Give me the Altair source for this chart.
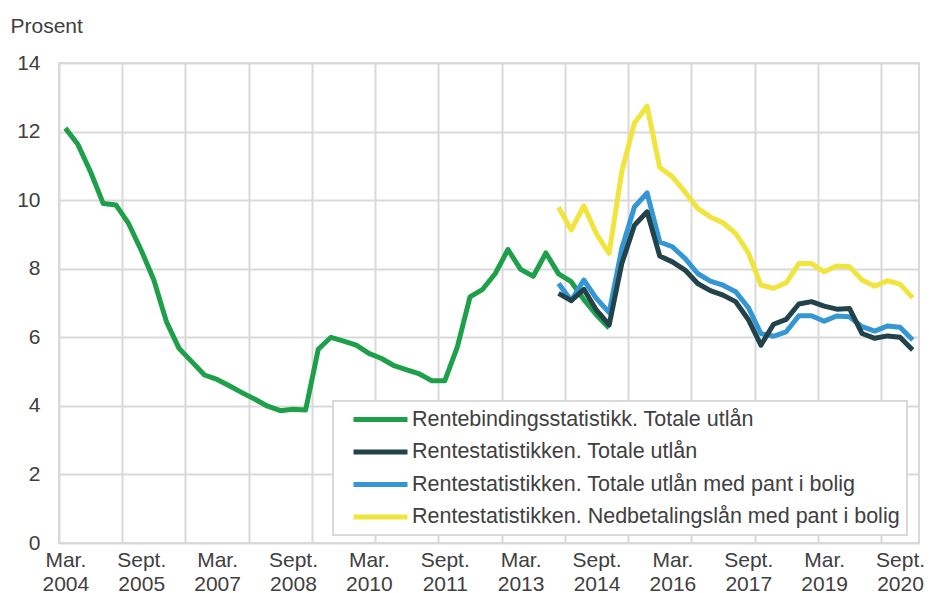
import json
import altair as alt
import pandas as pd

series_names = [
    "Rentebindingsstatistikk. Totale utlån",
    "Rentestatistikken. Totale utlån",
    "Rentestatistikken. Totale utlån med pant i bolig",
    "Rentestatistikken. Nedbetalingslån med pant i bolig",
]
series_colors = ["#1e9f4a", "#23434b", "#3497d4", "#f1e43d"]

# quarter index 0 = Mar. 2004
green_start = 0
green = [12.1, 11.62, 10.82, 9.9, 9.86, 9.32, 8.54, 7.67, 6.45, 5.67,
         5.29, 4.90, 4.77, 4.58, 4.38, 4.19, 3.99, 3.86, 3.90, 3.88,
         5.65, 6.0, 5.89, 5.77, 5.53, 5.38, 5.17, 5.05, 4.93, 4.73,
         4.73, 5.72, 7.18, 7.40, 7.86, 8.56, 7.98, 7.78, 8.46, 7.85,
         7.62, 7.1, 6.65, 6.27]

rente_start = 39
black = [7.28, 7.07, 7.40, 6.79, 6.36, 8.15, 9.27, 9.66, 8.37, 8.20,
         7.96, 7.57, 7.36, 7.23, 7.04, 6.52, 5.77, 6.38, 6.52, 6.97,
         7.04, 6.91, 6.82, 6.84, 6.11, 5.97, 6.04, 6.00, 5.63]
blue = [7.57, 7.07, 7.67, 7.13, 6.72, 8.59, 9.80, 10.21, 8.78, 8.64,
        8.30, 7.86, 7.64, 7.52, 7.33, 6.87, 6.11, 6.03, 6.16, 6.63,
        6.63, 6.47, 6.62, 6.60, 6.31, 6.18, 6.33, 6.29, 5.92]
yellow = [9.79, 9.13, 9.83, 9.01, 8.45, 10.83, 12.25, 12.74, 10.95, 10.68,
          10.24, 9.76, 9.51, 9.34, 9.03, 8.47, 7.52, 7.43, 7.59, 8.15,
          8.15, 7.91, 8.08, 8.06, 7.67, 7.49, 7.65, 7.55, 7.15]

tick_months = ["Mar.", "Sept.", "Mar.", "Sept.", "Mar.", "Sept.",
               "Mar.", "Sept.", "Mar.", "Sept.", "Mar.", "Sept."]
tick_years = ["2004", "2005", "2007", "2008", "2010", "2011",
              "2013", "2014", "2016", "2017", "2019", "2020"]
n_quarters = 68

rows = []
for name, start, vals in [
    (series_names[0], green_start, green),
    (series_names[3], rente_start, yellow),
    (series_names[2], rente_start, blue),
    (series_names[1], rente_start, black),
]:
    for k, v in enumerate(vals):
        rows.append({"q": start + k, "rate": v, "serie": name})
df = pd.DataFrame(rows)

label_vals = [6 * k for k in range(len(tick_years))]
grid_vals = [-0.5 + 5 * k for k in range(14)]
axis_vals = sorted(label_vals + grid_vals)
label_arr = json.dumps([[m, y] for m, y in zip(tick_months, tick_years)])
label_expr = f"datum.value % 6 == 0 ? {label_arr}[datum.value / 6] : ''"

text_color = "#404040"
grid_color = "#d9d9d9"
font = "Liberation Sans"

chart = alt.Chart(df).mark_line(strokeWidth=5, strokeJoin="round").encode(
    x=alt.X(
        "q:Q",
        scale=alt.Scale(domain=[-0.5, n_quarters - 0.5], nice=False, zero=False),
        axis=alt.Axis(
            values=axis_vals,
            labelExpr=label_expr,
            grid=True,
            gridOpacity={"condition": {"test": "datum.value % 1 != 0", "value": 1}, "value": 0},
            ticks=False,
            tickSize=0,
            domain=False,
            labelFontSize=21,
            labelPadding=6,
            labelLineHeight=24,
            labelOverlap=False,
            labelFlush=False,
            labelBound=False,
            title=None,
        ),
    ),
    y=alt.Y(
        "rate:Q",
        scale=alt.Scale(domain=[0, 14], nice=False),
        axis=alt.Axis(
            values=list(range(0, 15, 2)),
            title="Prosent",
            titleAngle=0,
            titleAlign="left",
            titleBaseline="alphabetic",
            titleX=-49,
            titleY=-31,
            titleFontWeight="normal",
            titleFontSize=21,
            titleColor=text_color,
            titleFont=font,
            ticks=False,
            tickSize=0,
            domain=False,
            labelPadding=19,
        ),
    ),
    color=alt.Color(
        "serie:N",
        scale=alt.Scale(domain=series_names, range=series_colors),
        legend=alt.Legend(
            orient="none",
            legendX=274,
            legendY=338,
            title=None,
            symbolType="M0.222,0H6.222",
            symbolSize=324,
            symbolStrokeWidth=5,
            labelOffset=49,
            padding=7,
            rowPadding=10.5,
            strokeColor=grid_color,
            fillColor="white",
            labelFontSize=21.5,
            labelColor=text_color,
            labelFont=font,
            labelLimit=0,
        ),
    ),
).properties(
    width=860,
    height=480,
    autosize="none",
    padding={"left": 51, "top": 55, "right": 6, "bottom": 53},
    background="white",
).configure_view(
    stroke=grid_color, strokeWidth=2
).configure_axis(
    labelFont=font,
    labelFontSize=21,
    labelColor=text_color,
    gridColor=grid_color,
    gridWidth=2,
).configure_legend(
    strokeWidth=2
)

chart.save("out.html", embed_options={"renderer": "svg", "actions": False})
